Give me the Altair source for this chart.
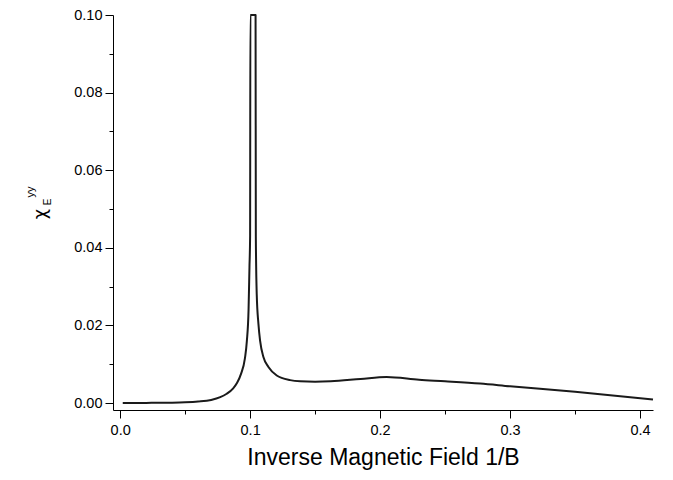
import altair as alt
import pandas as pd

# Data (1/B vs chi_E^yy); values above 0.10 are clipped at the axis top
inv_b = [0.002, 0.02, 0.04, 0.05, 0.06, 0.07, 0.077, 0.082, 0.087, 0.090, 0.093,
         0.096, 0.0975, 0.0988, 0.0995, 0.1000, 0.1002, 0.1042, 0.1044, 0.1051,
         0.1064, 0.1077, 0.1103, 0.1141, 0.1205, 0.1308, 0.1385, 0.150, 0.162,
         0.185, 0.205, 0.230, 0.250, 0.277, 0.300, 0.350, 0.410]
chi = [0.0, 0.00003, 0.0001, 0.0002, 0.0004, 0.0008, 0.0015, 0.0024, 0.0038, 0.0052,
       0.0075, 0.0115, 0.016, 0.024, 0.035, 0.043, 0.100, 0.100, 0.043, 0.028,
       0.0204, 0.016, 0.0118, 0.0093, 0.0071, 0.0059, 0.0056, 0.0055, 0.0056,
       0.0062, 0.0067, 0.0060, 0.0056, 0.0050, 0.0043, 0.0029, 0.0009]

x_ticks = [0.0, 0.05, 0.1, 0.15, 0.2, 0.25, 0.3, 0.35, 0.4]
y_ticks = [0.0, 0.01, 0.02, 0.03, 0.04, 0.05, 0.06, 0.07, 0.08, 0.09, 0.10]
x_title = "Inverse Magnetic Field 1/B"
y_main = ["χ"]
y_sup = ["yy"]
y_sub = ["E"]

df = pd.DataFrame({"x": inv_b, "y": chi})
FONT = "Liberation Sans"

x_major = "abs(datum.value*10 - round(datum.value*10)) < 1e-6"
y_major = "abs(datum.value*50 - round(datum.value*50)) < 1e-6"

line = alt.Chart(df).mark_line(color="#1a1a1a", strokeWidth=2, interpolate="monotone").encode(
    x=alt.X("x:Q",
            scale=alt.Scale(domain=[-0.0055, 0.41], nice=False, zero=False),
            axis=alt.Axis(values=x_ticks, title=x_title, grid=False,
                          labelExpr=f"({x_major}) ? format(datum.value, '.1f') : ''",
                          tickSize={"condition": {"test": x_major, "value": 8}, "value": 4},
                          labelPadding=5, labelFontSize=14.5, labelFont=FONT, labelColor="black",
                          titleFont=FONT, titleFontSize=23, titleFontWeight="normal",
                          titleColor="black", titlePadding=10,
                          domainColor="black", tickColor="black", labelFlush=False)),
    y=alt.Y("y:Q",
            scale=alt.Scale(domain=[-0.0018, 0.1], nice=False, zero=False),
            axis=alt.Axis(values=y_ticks, title=None, grid=False,
                          labelExpr=f"({y_major}) ? format(datum.value, '.2f') : ''",
                          tickSize={"condition": {"test": y_major, "value": 8}, "value": 4},
                          labelPadding=3, labelFontSize=14.5, labelFont=FONT, labelColor="black",
                          domainColor="black", tickColor="black", labelFlush=False)),
)

t_main = alt.Chart(pd.DataFrame({"t": y_main})).mark_text(
    font="DejaVu Sans", fontSize=18, angle=270, color="black", align="center", baseline="middle"
).encode(x=alt.value(-72), y=alt.value(199), text="t:N")
t_sup = alt.Chart(pd.DataFrame({"t": y_sup})).mark_text(
    font=FONT, fontSize=11, angle=270, color="black", align="center", baseline="middle"
).encode(x=alt.value(-82), y=alt.value(177), text="t:N")
t_sub = alt.Chart(pd.DataFrame({"t": y_sub})).mark_text(
    font=FONT, fontSize=10, angle=270, color="black", align="center", baseline="middle"
).encode(x=alt.value(-65), y=alt.value(187), text="t:N")

chart = alt.layer(line, t_main, t_sup, t_sub).properties(
    width=540, height=395,
    autosize=alt.AutoSizeParams(type="none"),
    padding={"left": 105, "top": 7, "right": 12, "bottom": 62},
).configure(background="white").configure_view(stroke=None, strokeWidth=0)

chart.save("out.html", embed_options={"renderer": "svg", "actions": False})
